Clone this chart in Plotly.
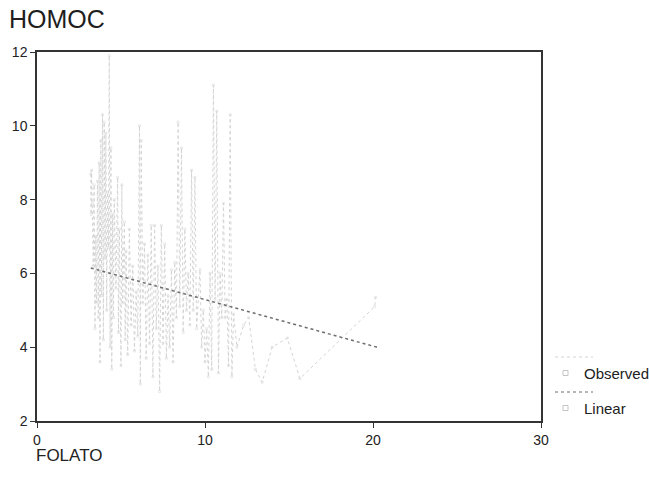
import plotly.graph_objects as go

# ---- data ----
folato = [3.20, 3.22, 3.25, 3.30, 3.35, 3.40, 3.45, 3.50, 3.55, 3.60, 3.65, 3.70, 3.75, 3.80, 3.85,
          3.90, 3.95, 4.00, 4.05, 4.10, 4.15, 4.20, 4.25, 4.30, 4.35, 4.40, 4.45, 4.50, 4.55, 4.60,
          4.70, 4.80, 4.85, 4.90, 5.00, 5.05, 5.10, 5.20, 5.25, 5.30, 5.40, 5.50, 5.60, 5.70, 5.80,
          5.90, 6.00, 6.10, 6.15, 6.20, 6.30, 6.40, 6.50, 6.60, 6.70, 6.80, 6.90, 7.00, 7.10, 7.20,
          7.30, 7.40, 7.50, 7.60, 7.70, 7.80, 7.90, 8.00, 8.10, 8.20, 8.30, 8.40, 8.50, 8.60, 8.70,
          8.80, 8.90, 9.00, 9.10, 9.20, 9.30, 9.40, 9.50, 9.70, 9.80, 9.90, 10.00, 10.10, 10.20, 10.30,
          10.40, 10.50, 10.60, 10.70, 10.80, 10.90, 11.00, 11.10, 11.20, 11.30, 11.40, 11.50, 11.60, 11.70,
          11.90, 12.30, 12.60, 13.00, 13.40, 14.00, 14.90, 15.65, 20.10, 20.15]
homoc = [8.70, 7.60, 8.80, 7.90, 6.20, 8.40, 4.50, 7.00, 5.20, 8.50, 4.80, 9.00, 3.60, 9.60, 5.40,
         10.30, 4.20, 10.10, 6.40, 9.80, 5.00, 8.20, 6.70, 11.90, 4.00, 9.40, 3.40, 7.60, 4.80, 8.00,
         5.60, 8.60, 4.40, 7.20, 3.50, 8.40, 5.20, 7.40, 4.20, 6.60, 3.80, 7.20, 4.60, 6.20, 3.90,
         5.50, 4.30, 10.00, 3.00, 9.60, 5.20, 6.80, 3.70, 6.50, 4.10, 7.30, 3.20, 7.30, 4.50, 6.20,
         2.80, 7.30, 4.10, 6.80, 3.70, 5.40, 4.00, 6.10, 3.60, 6.30, 4.80, 10.10, 5.10, 9.40, 4.40,
         7.20, 5.00, 6.00, 4.60, 8.80, 5.00, 8.60, 4.50, 6.10, 4.00, 5.00, 3.60, 4.50, 3.20, 6.00,
         3.40, 11.10, 5.30, 10.40, 3.30, 6.00, 4.80, 7.90, 4.80, 5.30, 3.50, 10.30, 3.20, 4.90,
         4.00, 4.60, 4.80, 3.40, 3.05, 4.00, 4.25, 3.15, 5.10, 5.35]

# linear model coefficients
b0 = 6.55
b1 = -0.126
linear_x = [3.20, 20.30]

series_names = ["Observed", "Linear"]
title_text = "HOMOC"
x_title = "FOLATO"
x_ticks = [0, 10, 20, 30]
y_ticks = [2, 4, 6, 8, 10, 12]

linear_y = [b0 + b1 * v for v in linear_x]

OBS_COLOR = "#d4d4d4"
LIN_COLOR = "#6e6e6e"
FONT = "Liberation Sans, Arial, sans-serif"

fig = go.Figure()
fig.add_trace(go.Scatter(
    x=folato, y=homoc, mode="lines+markers", name=series_names[0],
    line=dict(color=OBS_COLOR, width=1, dash="dot"),
    marker=dict(symbol="square-open", size=2, color=OBS_COLOR, line=dict(width=0.5, color=OBS_COLOR)),
    showlegend=False,
))
fig.add_trace(go.Scatter(
    x=linear_x, y=linear_y, mode="lines", name=series_names[1],
    line=dict(color=LIN_COLOR, width=1.5, dash="dot"),
    showlegend=False,
))

# custom SPSS-style legend (line sample above, small marker left of label)
# positions expressed relative to the plot area (plot area: x 37..541, y 52..421)
PL, PT, PW, PH = 37.0, 52.0, 504.0, 369.0
def px(x):
    return (x - PL) / PW
def py(y):
    return (PT + PH - y) / PH

shapes = []
annotations = []
items = [(series_names[0], OBS_COLOR, 357, 373), (series_names[1], LIN_COLOR, 392, 408)]
for name, col, ly, ty in items:
    shapes.append(dict(type="line", xref="paper", yref="paper",
                       x0=px(555), x1=px(593), y0=py(ly), y1=py(ly),
                       line=dict(color=col, width=1, dash="dot")))
    shapes.append(dict(type="rect", xref="paper", yref="paper",
                       x0=px(563), x1=px(568), y0=py(ty + 2.5), y1=py(ty - 2.5),
                       line=dict(color="#c4c4c4", width=1)))
    annotations.append(dict(text=name, xref="paper", yref="paper",
                            x=px(582), y=py(ty),
                            xanchor="left", yanchor="middle", showarrow=False,
                            font=dict(family=FONT, size=15, color="#222222")))

annotations.append(dict(text=title_text, xref="paper", yref="paper",
                        x=px(7), y=py(19),
                        xanchor="left", yanchor="middle", showarrow=False,
                        font=dict(family=FONT, size=25, color="#1e1e1e")))
annotations.append(dict(text=x_title, xref="paper", yref="paper",
                        x=px(34), y=py(455),
                        xanchor="left", yanchor="middle", showarrow=False,
                        font=dict(family=FONT, size=17, color="#222222")))

fig.update_layout(
    width=649, height=493,
    margin=dict(l=37, r=108, t=52, b=72),
    paper_bgcolor="white", plot_bgcolor="white",
    font=dict(family=FONT, size=14, color="#222222"),
    shapes=shapes, annotations=annotations,
    showlegend=False,
)
fig.update_xaxes(range=[0, 30], tickvals=x_ticks, showgrid=False, zeroline=False,
                 showline=True, linecolor="#333333", linewidth=1.5, mirror=True,
                 ticks="outside", ticklen=5, tickcolor="#333333", automargin=False,
                 tickfont=dict(size=14, color="#222222"))
fig.update_yaxes(range=[2, 12], tickvals=y_ticks, showgrid=False, zeroline=False,
                 showline=True, linecolor="#333333", linewidth=1.5, mirror=True,
                 ticks="outside", ticklen=5, tickcolor="#333333", automargin=False,
                 tickfont=dict(size=14, color="#222222"))

fig.write_html("out.html", config={"displayModeBar": False},
               post_script="document.body.style.margin='0px';")
